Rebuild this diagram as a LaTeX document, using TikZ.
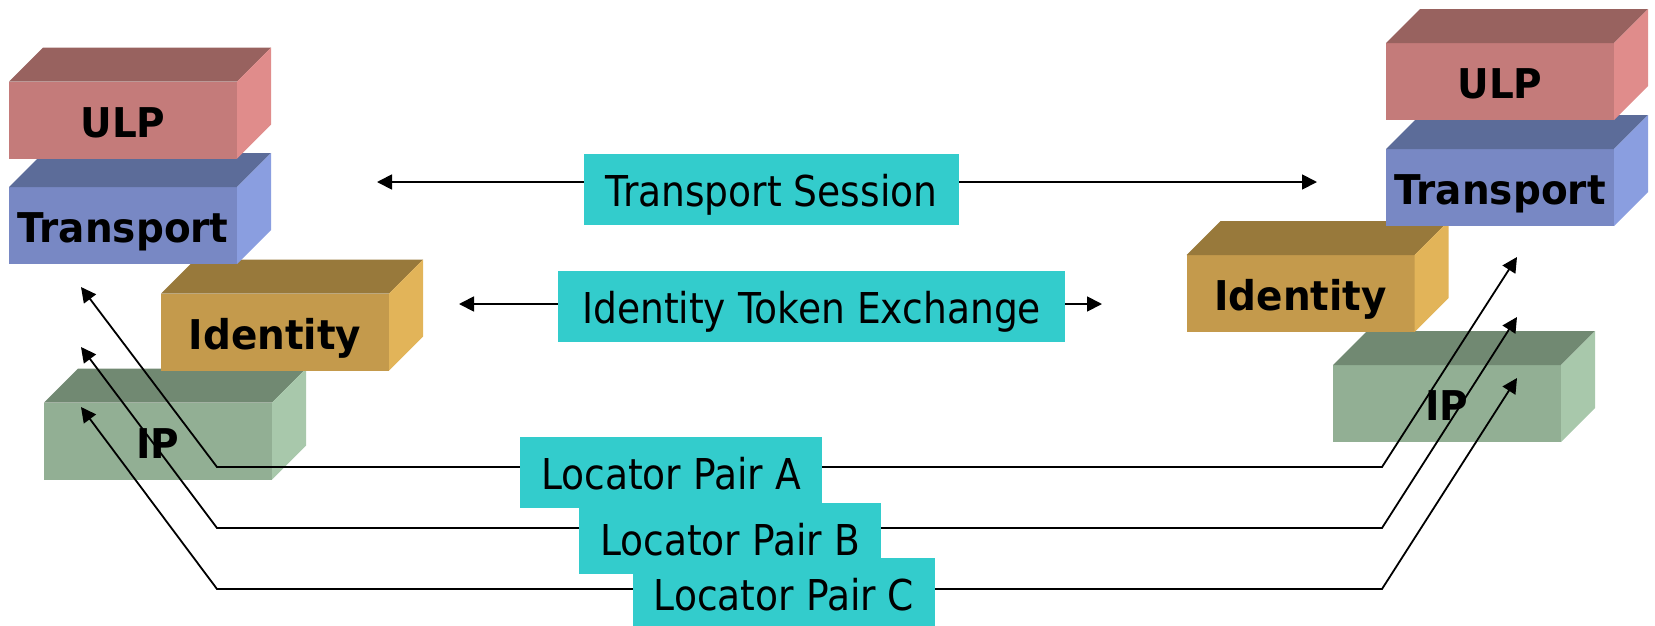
\documentclass[tikz,border=0pt]{standalone}
\usepackage{fontspec}
\usetikzlibrary{arrows.meta}
\newfontfamily\lblfont[FakeStretch=0.885]{DejaVu Sans}
\newfontfamily\layerfont[FakeStretch=0.95]{DejaVu Sans}
\definecolor{ulpF}{HTML}{C47B7A}\definecolor{ulpT}{HTML}{98625F}\definecolor{ulpS}{HTML}{E08C8B}
\definecolor{trF}{HTML}{7888C4}\definecolor{trT}{HTML}{5C6C99}\definecolor{trS}{HTML}{8A9EE0}
\definecolor{idF}{HTML}{C49A4C}\definecolor{idT}{HTML}{98793B}\definecolor{idS}{HTML}{E2B459}
\definecolor{ipF}{HTML}{92AF94}\definecolor{ipT}{HTML}{718972}\definecolor{ipS}{HTML}{A8C8AB}
\definecolor{lblcyan}{HTML}{33CCCC}
\tikzset{
  layerface/.style={inner sep=0pt, outer sep=0pt, minimum width=228pt, minimum height=77pt,
    text height=34pt, text depth=0pt, font={\fontsize{41}{41}\layerfont\bfseries}},
  lblbox/.style={fill=lblcyan, inner sep=0pt, outer sep=0pt, minimum height=71pt,
    text height=34pt, text depth=0pt, font={\fontsize{42.5}{42.5}\lblfont}},
  conn/.style={line width=1.8pt, {Triangle[length=15pt,width=15pt]}-{Triangle[length=15pt,width=15pt]}},
}
\newcommand\stackbox[4]{%
  \node[layerface, fill=#3F] (#1) at (#2) {#4};
  \fill[#3T] (#1.north west) -- ++(34,-34) -- ([shift={(34,-34)}]#1.north east) -- (#1.north east) -- cycle;
  \fill[#3S] (#1.north east) -- ([shift={(34,-34)}]#1.north east) -- ([shift={(34,-34)}]#1.south east) -- (#1.south east) -- cycle;
}
\begin{document}
\begin{tikzpicture}[x=1pt,y=-1pt]
\useasboundingbox (0,0) rectangle (1655,625);
% left stack
\stackbox{ipL}{158,441}{ip}{IP}
\stackbox{idL}{275,332}{id}{Identity}
\stackbox{trL}{123,225.5}{tr}{Transport}
\stackbox{ulpL}{123,120}{ulp}{ULP}
% right stack
\stackbox{ipR}{1447,403.5}{ip}{IP}
\stackbox{idR}{1300.5,293.5}{id}{Identity}
\stackbox{trR}{1500,187.5}{tr}{Transport}
\stackbox{ulpR}{1500,81.5}{ulp}{ULP}
% endpoints
\coordinate (tsL) at (377,182); \coordinate (tsR) at (1317,182);
\coordinate (iteL) at (459,304); \coordinate (iteR) at (1102,304);
\coordinate (aL) at (81,287); \coordinate (aL2) at (217,467); \coordinate (aR2) at (1382,467); \coordinate (aR) at (1517,257);
\coordinate (bL) at (81,347); \coordinate (bL2) at (217,528); \coordinate (bR2) at (1382,528); \coordinate (bR) at (1517,317);
\coordinate (cL) at (81,407); \coordinate (cL2) at (217,589); \coordinate (cR2) at (1382,589); \coordinate (cR) at (1517,378);
% connectors
\draw[conn] (tsL) -- (tsR);
\draw[conn] (iteL) -- (iteR);
\draw[conn] (aL) -- (aL2) -- (aR2) -- (aR);
\draw[conn] (bL) -- (bL2) -- (bR2) -- (bR);
\draw[conn] (cL) -- (cL2) -- (cR2) -- (cR);
% labels
\node[lblbox, minimum width=375pt] (ts) at (771.5,189.5) {Transport Session};
\node[lblbox, minimum width=507pt] (ite) at (811.5,306.5) {Identity Token Exchange};
\node[lblbox, minimum width=302pt] (lpA) at (671,472.5) {Locator Pair A};
\node[lblbox, minimum width=302pt] (lpB) at (730,538.5) {Locator Pair B};
\node[lblbox, minimum width=302pt] (lpC) at (784,593.5) {Locator Pair C};
\end{tikzpicture}
\end{document}
